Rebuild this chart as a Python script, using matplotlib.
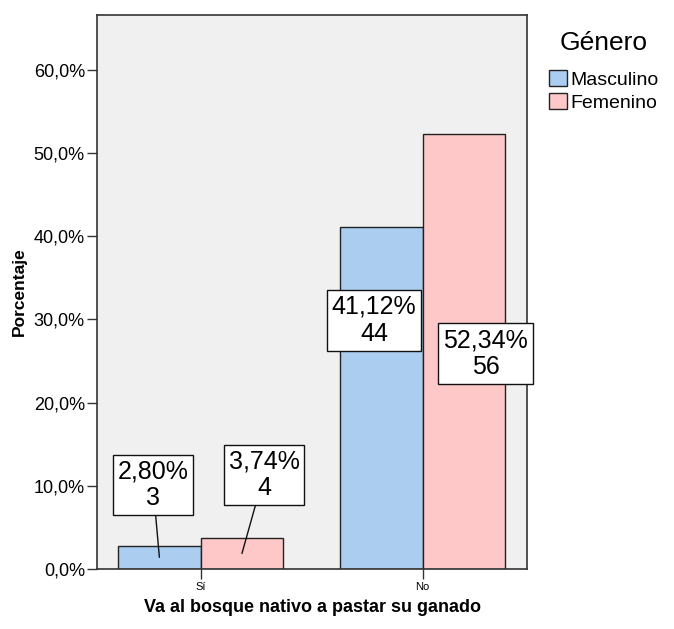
import matplotlib
matplotlib.use("Agg")
import matplotlib.pyplot as plt
import numpy as np

plt.rcParams['font.family'] = ['Liberation Sans', 'DejaVu Sans']

categories = ["Sí", "No"]
series_names = ["Masculino", "Femenino"]
pct_masculino = [2.80, 41.12]
pct_femenino = [3.74, 52.34]
cnt_masculino = [3, 44]
cnt_femenino = [4, 56]
y_ticks = [0, 10, 20, 30, 40, 50, 60]

colors = ["#aacdf0", "#fec8c8"]

fig = plt.figure(figsize=(6.74, 6.29), dpi=100)
ax = fig.add_axes([97/674, 1-569/629, 430/674, 554/629])
ax.set_facecolor("#f0f0f0")

x = np.arange(len(categories))
w = 0.372
ax.bar(x - w/2, pct_masculino, w, color=colors[0], edgecolor="#222222", linewidth=1.0, label=series_names[0], zorder=2)
ax.bar(x + w/2, pct_femenino, w, color=colors[1], edgecolor="#222222", linewidth=1.0, label=series_names[1], zorder=2)

ax.set_xlim(-0.467, 1.470)
ax.set_ylim(0, 66.6)
ax.set_yticks(y_ticks)
ax.set_yticklabels([f"{t:.1f}".replace(".", ",") + "%" for t in y_ticks], fontsize=13)
ax.set_xticks(x)
ax.set_xticklabels(categories, fontsize=8)
ax.tick_params(axis='y', direction='out', length=7.2, width=1, color="#333333", pad=1.5)
ax.tick_params(axis='x', direction='out', length=7.2, width=1, color="#333333", pad=2)
for s in ax.spines.values():
    s.set_color("#333333")
    s.set_linewidth(1.2)

ax.set_xlabel("Va al bosque nativo a pastar su ganado", fontsize=13, fontweight='bold', labelpad=5)
ax.set_ylabel("Porcentaje", fontsize=12.5, fontweight='bold', labelpad=5)

def lab(p, c):
    return f"{p:.2f}".replace(".", ",") + "%\n" + str(c)

bbox = dict(boxstyle="square,pad=0.2", facecolor="white", edgecolor="#111111", linewidth=1.0)
offsets = {
    (0, 0): (-0.029, 10.1, True),
    (0, 1): (0.099, 11.3, True),
    (1, 0): (-0.033, 29.9, False),
    (1, 1): (0.098, 25.9, False),
}
for si, (vals, cnts) in enumerate([(pct_masculino, cnt_masculino), (pct_femenino, cnt_femenino)]):
    for ci in range(len(categories)):
        xc = x[ci] + (-w/2 if si == 0 else w/2)
        dx, ty, leader = offsets[(ci, si)]
        kw = dict(arrowprops=dict(arrowstyle='-', color="#111111", lw=1.0, shrinkA=0, shrinkB=0)) if leader else {}
        ax.annotate(lab(vals[ci], cnts[ci]), xy=(xc, vals[ci]/2), xytext=(xc+dx, ty),
                    ha='center', va='center', fontsize=18, linespacing=1.15,
                    bbox=bbox, zorder=5, **kw)

leg = ax.legend(title="Género", loc='upper left', bbox_to_anchor=(549/674, 1-31/629),
                bbox_transform=fig.transFigure, frameon=False, fontsize=14, title_fontsize=19,
                handlelength=0.9, handleheight=0.9, handletextpad=0.2, labelspacing=0.2,
                borderpad=0, borderaxespad=0)
leg._legend_box.sep = 11
for h in leg.legend_handles:
    h.set_edgecolor("#222222")
    h.set_linewidth(1.0)

fig.savefig("out.png", dpi=100, facecolor="white")
